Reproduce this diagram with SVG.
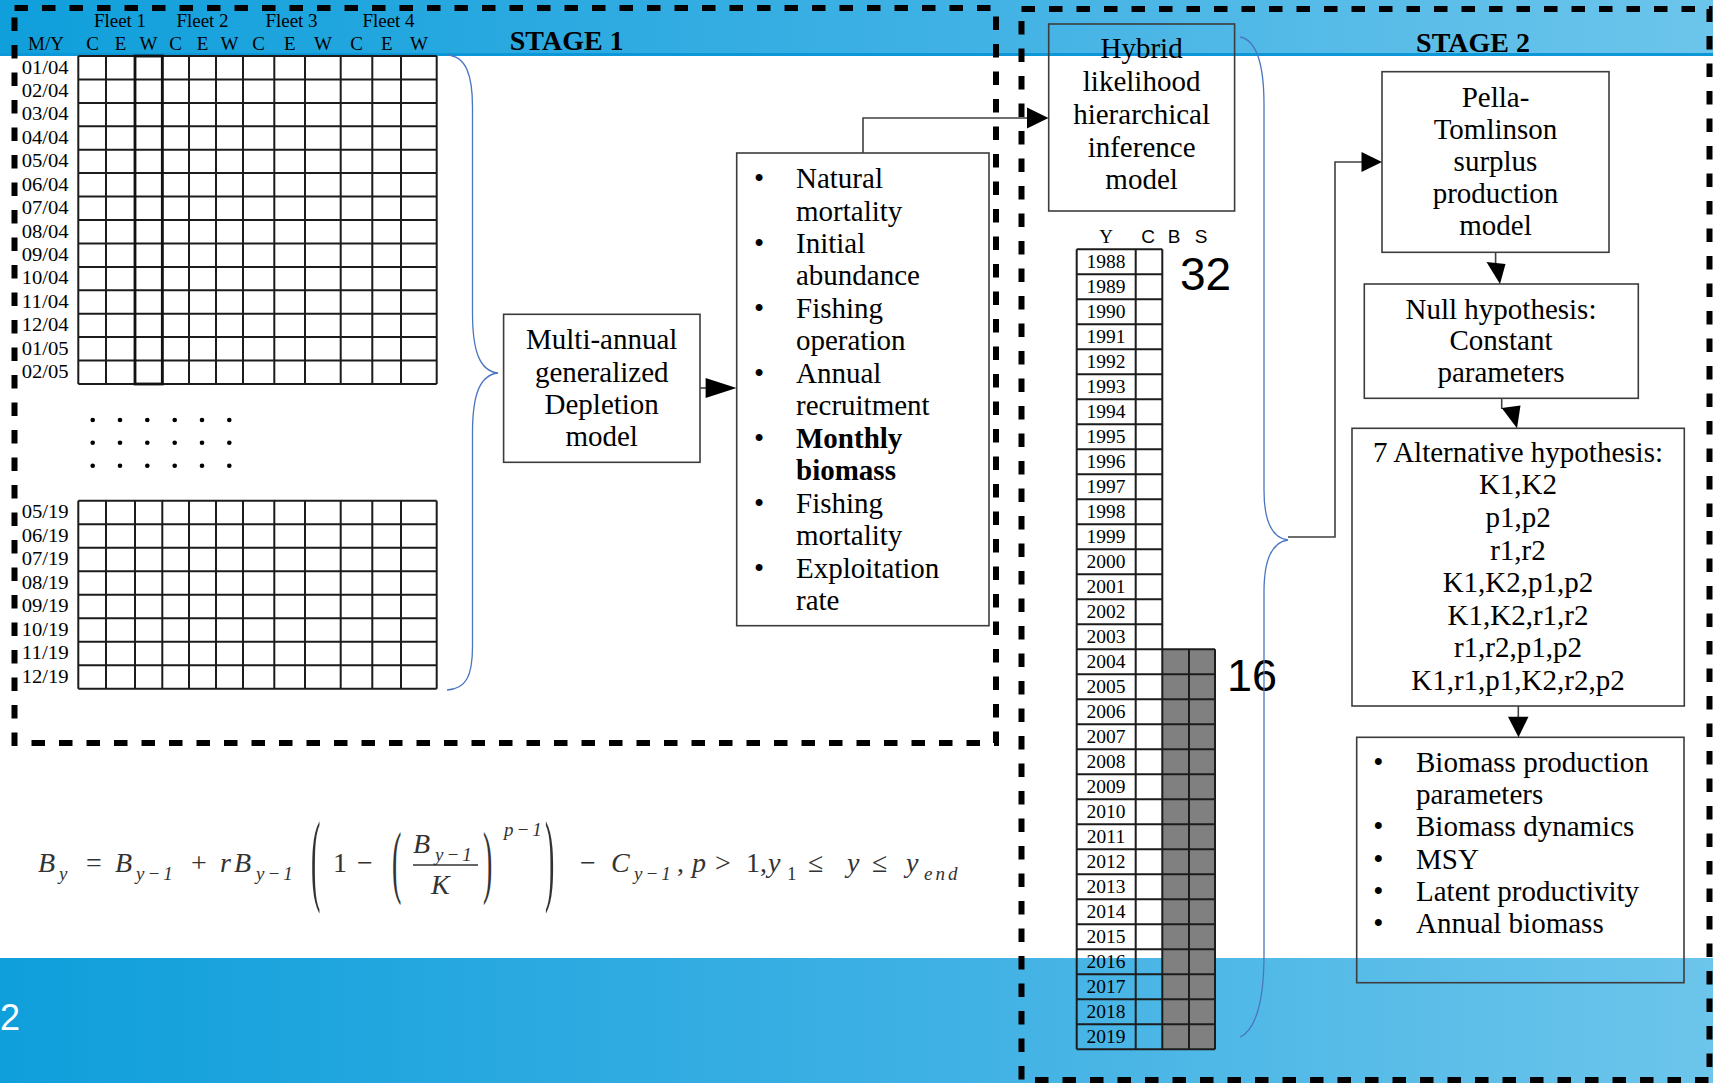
<svg xmlns="http://www.w3.org/2000/svg" width="1713" height="1083" viewBox="0 0 1713 1083">
<defs>
<linearGradient id="band" x1="0" y1="0" x2="1713" y2="0" gradientUnits="userSpaceOnUse">
<stop offset="0" stop-color="#0f9fdb"/><stop offset="0.55" stop-color="#3fb1e4"/><stop offset="1" stop-color="#6cc5eb"/>
</linearGradient>
<style>
.t{font-family:"Liberation Serif","Times New Roman",serif;fill:#000;font-size:29px}
.c{text-anchor:middle}
.lbl{font-family:"Liberation Serif","Times New Roman",serif;font-size:18px;fill:#000}
.hdr{font-family:"Liberation Serif","Times New Roman",serif;font-size:19px;fill:#000;text-anchor:middle}
.yr{font-family:"Liberation Serif","Times New Roman",serif;font-size:19.5px;fill:#000;text-anchor:middle}
.sans{font-family:"Liberation Sans",Arial,sans-serif;fill:#000}
.ttl{font-family:"Liberation Serif","Times New Roman",serif;font-size:28px;font-weight:bold;fill:#000;text-anchor:middle}
.box{fill:none;stroke:#3c3c3c;stroke-width:1.6}
.grid{fill:none;stroke:#1c1c1c;stroke-width:2}
.dash{fill:none;stroke:#000;stroke-width:6;stroke-dasharray:13.5 14}
.brace{fill:none;stroke:#4a76c0;stroke-width:1.3}
.conn{fill:none;stroke:#404040;stroke-width:1.6}
.head{fill:#000}
.eq{font-family:"Liberation Serif","DejaVu Serif",serif;fill:#333;font-size:28px}
.eqi{font-style:italic}
.sub{font-size:19px;letter-spacing:3px}
</style>
</defs>

<!-- background -->
<rect x="0" y="0" width="1713" height="1083" fill="#fff"/>
<rect x="0" y="0" width="1713" height="54" fill="url(#band)"/>
<line x1="0" y1="54.5" x2="1713" y2="54.5" stroke="#0c98d8" stroke-width="3"/>
<rect x="0" y="958" width="1713" height="125" fill="url(#band)"/>
<text x="0" y="1030" font-family="Liberation Sans, Arial, sans-serif" font-size="36" fill="#fff">2</text>

<!-- stage frames -->
<g id="stage1">
<rect class="dash" x="14.5" y="8" width="981.5" height="735"/>
<text class="ttl" x="566.7" y="50">STAGE 1</text>
</g>
<g id="stage2">
<rect class="dash" x="1021.5" y="9" width="688" height="1071"/>
<text class="ttl" x="1473" y="51.5">STAGE 2</text>
</g>

<!-- monthly data grid -->
<g id="monthly-grid">
<text class="hdr" x="120" y="27.3">Fleet 1</text>
<text class="hdr" x="202.5" y="27.3">Fleet 2</text>
<text class="hdr" x="291.5" y="27.3">Fleet 3</text>
<text class="hdr" x="388.5" y="27.3">Fleet 4</text>
<text class="hdr" x="46" y="50">M/Y</text>
<text class="hdr" x="92.5" y="50">C</text>
<text class="hdr" x="120.5" y="50">E</text>
<text class="hdr" x="148.5" y="50">W</text>
<text class="hdr" x="175.5" y="50">C</text>
<text class="hdr" x="202.5" y="50">E</text>
<text class="hdr" x="229.5" y="50">W</text>
<text class="hdr" x="258.7" y="50">C</text>
<text class="hdr" x="289.7" y="50">E</text>
<text class="hdr" x="323" y="50">W</text>
<text class="hdr" x="356.5" y="50">C</text>
<text class="hdr" x="386.7" y="50">E</text>
<text class="hdr" x="419" y="50">W</text>
<path class="grid" d="M78.3,56H436.7M78.3,79.4H436.7M78.3,102.9H436.7M78.3,126.3H436.7M78.3,149.7H436.7M78.3,173.1H436.7M78.3,196.6H436.7M78.3,220H436.7M78.3,243.4H436.7M78.3,266.9H436.7M78.3,290.3H436.7M78.3,313.7H436.7M78.3,337.1H436.7M78.3,360.6H436.7M78.3,384H436.7
M78.3,56V384M106,56V384M135,56V384M162.3,56V384M189,56V384M216,56V384M243,56V384M274.3,56V384M305,56V384M340.7,56V384M372.3,56V384M401,56V384M436.7,56V384"/>
<rect x="135" y="56" width="27.3" height="328" fill="none" stroke="#111" stroke-width="2.8"/>
<text class="lbl" x="21.7" y="73.5" textLength="47" lengthAdjust="spacingAndGlyphs">01/04</text>
<text class="lbl" x="21.7" y="96.9" textLength="47" lengthAdjust="spacingAndGlyphs">02/04</text>
<text class="lbl" x="21.7" y="120.4" textLength="47" lengthAdjust="spacingAndGlyphs">03/04</text>
<text class="lbl" x="21.7" y="143.8" textLength="47" lengthAdjust="spacingAndGlyphs">04/04</text>
<text class="lbl" x="21.7" y="167.2" textLength="47" lengthAdjust="spacingAndGlyphs">05/04</text>
<text class="lbl" x="21.7" y="190.6" textLength="47" lengthAdjust="spacingAndGlyphs">06/04</text>
<text class="lbl" x="21.7" y="214.1" textLength="47" lengthAdjust="spacingAndGlyphs">07/04</text>
<text class="lbl" x="21.7" y="237.5" textLength="47" lengthAdjust="spacingAndGlyphs">08/04</text>
<text class="lbl" x="21.7" y="260.9" textLength="47" lengthAdjust="spacingAndGlyphs">09/04</text>
<text class="lbl" x="21.7" y="284.4" textLength="47" lengthAdjust="spacingAndGlyphs">10/04</text>
<text class="lbl" x="21.7" y="307.8" textLength="47" lengthAdjust="spacingAndGlyphs">11/04</text>
<text class="lbl" x="21.7" y="331.2" textLength="47" lengthAdjust="spacingAndGlyphs">12/04</text>
<text class="lbl" x="21.7" y="354.6" textLength="47" lengthAdjust="spacingAndGlyphs">01/05</text>
<text class="lbl" x="21.7" y="378.1" textLength="47" lengthAdjust="spacingAndGlyphs">02/05</text>
<g fill="#000">
<circle cx="92.7" cy="420" r="2.3"/><circle cx="120" cy="420" r="2.3"/><circle cx="147.3" cy="420" r="2.3"/><circle cx="174.7" cy="420" r="2.3"/><circle cx="202" cy="420" r="2.3"/><circle cx="229.3" cy="420" r="2.3"/>
<circle cx="92.7" cy="442.7" r="2.3"/><circle cx="120" cy="442.7" r="2.3"/><circle cx="147.3" cy="442.7" r="2.3"/><circle cx="174.7" cy="442.7" r="2.3"/><circle cx="202" cy="442.7" r="2.3"/><circle cx="229.3" cy="442.7" r="2.3"/>
<circle cx="92.7" cy="465.7" r="2.3"/><circle cx="120" cy="465.7" r="2.3"/><circle cx="147.3" cy="465.7" r="2.3"/><circle cx="174.7" cy="465.7" r="2.3"/><circle cx="202" cy="465.7" r="2.3"/><circle cx="229.3" cy="465.7" r="2.3"/>
</g>
<path class="grid" d="M78.3,500.7H436.7M78.3,524.2H436.7M78.3,547.7H436.7M78.3,571.2H436.7M78.3,594.7H436.7M78.3,618.2H436.7M78.3,641.7H436.7M78.3,665.2H436.7M78.3,688.7H436.7
M78.3,500.7V688.7M106,500.7V688.7M135,500.7V688.7M162.3,500.7V688.7M189,500.7V688.7M216,500.7V688.7M243,500.7V688.7M274.3,500.7V688.7M305,500.7V688.7M340.7,500.7V688.7M372.3,500.7V688.7M401,500.7V688.7M436.7,500.7V688.7"/>
<text class="lbl" x="21.7" y="518.2" textLength="47" lengthAdjust="spacingAndGlyphs">05/19</text>
<text class="lbl" x="21.7" y="541.7" textLength="47" lengthAdjust="spacingAndGlyphs">06/19</text>
<text class="lbl" x="21.7" y="565.2" textLength="47" lengthAdjust="spacingAndGlyphs">07/19</text>
<text class="lbl" x="21.7" y="588.7" textLength="47" lengthAdjust="spacingAndGlyphs">08/19</text>
<text class="lbl" x="21.7" y="612.2" textLength="47" lengthAdjust="spacingAndGlyphs">09/19</text>
<text class="lbl" x="21.7" y="635.7" textLength="47" lengthAdjust="spacingAndGlyphs">10/19</text>
<text class="lbl" x="21.7" y="659.2" textLength="47" lengthAdjust="spacingAndGlyphs">11/19</text>
<text class="lbl" x="21.7" y="682.7" textLength="47" lengthAdjust="spacingAndGlyphs">12/19</text>
</g>

<!-- depletion model -->
<g id="depletion-model">
<rect class="box" x="503.6" y="314.3" width="196.4" height="148"/>
<text class="t c" x="601.7" y="349.3">Multi-annual</text>
<text class="t c" x="601.7" y="381.5">generalized</text>
<text class="t c" x="601.7" y="413.8">Depletion</text>
<text class="t c" x="601.7" y="446">model</text>
</g>

<!-- stage 1 outputs -->
<g id="stage1-outputs">
<rect class="box" x="736.7" y="153" width="252.3" height="472.7"/>
<text class="t c" x="759" y="188">•</text>
<text class="t" x="796" y="188">Natural</text>
<text class="t" x="796" y="220.5">mortality</text>
<text class="t c" x="759" y="252.9">•</text>
<text class="t" x="796" y="252.9">Initial</text>
<text class="t" x="796" y="285.4">abundance</text>
<text class="t c" x="759" y="317.8">•</text>
<text class="t" x="796" y="317.8">Fishing</text>
<text class="t" x="796" y="350.3">operation</text>
<text class="t c" x="759" y="382.8">•</text>
<text class="t" x="796" y="382.8">Annual</text>
<text class="t" x="796" y="415.2">recruitment</text>
<text class="t c" x="759" y="447.7">•</text>
<text class="t" x="796" y="447.7" font-weight="bold">Monthly</text>
<text class="t" x="796" y="480.1" font-weight="bold">biomass</text>
<text class="t c" x="759" y="512.6">•</text>
<text class="t" x="796" y="512.6">Fishing</text>
<text class="t" x="796" y="545.1">mortality</text>
<text class="t c" x="759" y="577.5">•</text>
<text class="t" x="796" y="577.5">Exploitation</text>
<text class="t" x="796" y="610">rate</text>
</g>

<!-- hybrid model -->
<g id="hybrid-model">
<rect class="box" x="1048.7" y="24" width="185.9" height="187"/>
<text class="t c" x="1141.6" y="58.3">Hybrid</text>
<text class="t c" x="1141.6" y="91">likelihood</text>
<text class="t c" x="1141.6" y="123.8">hierarchical</text>
<text class="t c" x="1141.6" y="156.5">inference</text>
<text class="t c" x="1141.6" y="189.3">model</text>
</g>

<!-- annual table -->
<g id="annual-table">
<text class="hdr" x="1106" y="242.7">Y</text>
<text class="sans" x="1148" y="242.7" font-size="19" text-anchor="middle">C</text>
<text class="sans" x="1174" y="242.7" font-size="19" text-anchor="middle">B</text>
<text class="sans" x="1201" y="242.7" font-size="19" text-anchor="middle">S</text>
<rect x="1162.3" y="649.3" width="52.7" height="400" fill="#808080"/>
<path class="grid" d="M1076.7,249.3V1049.3M1135.7,249.3V1049.3M1162.3,249.3V1049.3M1189,649.3V1049.3M1215,649.3V1049.3
M1076.7,249.3H1162.3M1076.7,274.3H1162.3M1076.7,299.3H1162.3M1076.7,324.3H1162.3M1076.7,349.3H1162.3M1076.7,374.3H1162.3M1076.7,399.3H1162.3M1076.7,424.3H1162.3M1076.7,449.3H1162.3M1076.7,474.3H1162.3M1076.7,499.3H1162.3M1076.7,524.3H1162.3M1076.7,549.3H1162.3M1076.7,574.3H1162.3M1076.7,599.3H1162.3M1076.7,624.3H1162.3
M1076.7,649.3H1215M1076.7,674.3H1215M1076.7,699.3H1215M1076.7,724.3H1215M1076.7,749.3H1215M1076.7,774.3H1215M1076.7,799.3H1215M1076.7,824.3H1215M1076.7,849.3H1215M1076.7,874.3H1215M1076.7,899.3H1215M1076.7,924.3H1215M1076.7,949.3H1215M1076.7,974.3H1215M1076.7,999.3H1215M1076.7,1024.3H1215M1076.7,1049.3H1215"/>
<text class="yr" x="1106" y="268.3">1988</text>
<text class="yr" x="1106" y="293.3">1989</text>
<text class="yr" x="1106" y="318.3">1990</text>
<text class="yr" x="1106" y="343.3">1991</text>
<text class="yr" x="1106" y="368.3">1992</text>
<text class="yr" x="1106" y="393.3">1993</text>
<text class="yr" x="1106" y="418.3">1994</text>
<text class="yr" x="1106" y="443.3">1995</text>
<text class="yr" x="1106" y="468.3">1996</text>
<text class="yr" x="1106" y="493.3">1997</text>
<text class="yr" x="1106" y="518.3">1998</text>
<text class="yr" x="1106" y="543.3">1999</text>
<text class="yr" x="1106" y="568.3">2000</text>
<text class="yr" x="1106" y="593.3">2001</text>
<text class="yr" x="1106" y="618.3">2002</text>
<text class="yr" x="1106" y="643.3">2003</text>
<text class="yr" x="1106" y="668.3">2004</text>
<text class="yr" x="1106" y="693.3">2005</text>
<text class="yr" x="1106" y="718.3">2006</text>
<text class="yr" x="1106" y="743.3">2007</text>
<text class="yr" x="1106" y="768.3">2008</text>
<text class="yr" x="1106" y="793.3">2009</text>
<text class="yr" x="1106" y="818.3">2010</text>
<text class="yr" x="1106" y="843.3">2011</text>
<text class="yr" x="1106" y="868.3">2012</text>
<text class="yr" x="1106" y="893.3">2013</text>
<text class="yr" x="1106" y="918.3">2014</text>
<text class="yr" x="1106" y="943.3">2015</text>
<text class="yr" x="1106" y="968.3">2016</text>
<text class="yr" x="1106" y="993.3">2017</text>
<text class="yr" x="1106" y="1018.3">2018</text>
<text class="yr" x="1106" y="1043.3">2019</text>
<text class="sans" x="1180" y="290" font-size="46">32</text>
<text class="sans" x="1227" y="690.7" font-size="45">16</text>
</g>

<!-- pella-tomlinson -->
<g id="pella-tomlinson">
<rect class="box" x="1382" y="71.7" width="227" height="180.6"/>
<text class="t c" x="1495.5" y="106.7">Pella-</text>
<text class="t c" x="1495.5" y="138.6">Tomlinson</text>
<text class="t c" x="1495.5" y="170.7">surplus</text>
<text class="t c" x="1495.5" y="202.8">production</text>
<text class="t c" x="1495.5" y="235">model</text>
</g>

<g id="null-hypothesis">
<rect class="box" x="1364.3" y="284" width="274" height="114.3"/>
<text class="t c" x="1501" y="318.5">Null hypothesis:</text>
<text class="t c" x="1501" y="350.3">Constant</text>
<text class="t c" x="1501" y="382">parameters</text>
</g>

<g id="alternative-hypothesis">
<rect class="box" x="1352" y="428.3" width="332.3" height="277.7"/>
<text class="t c" x="1518" y="461.7">7 Alternative hypothesis:</text>
<text class="t c" x="1518" y="494.3">K1,K2</text>
<text class="t c" x="1518" y="526.9">p1,p2</text>
<text class="t c" x="1518" y="559.5">r1,r2</text>
<text class="t c" x="1518" y="592.1">K1,K2,p1,p2</text>
<text class="t c" x="1518" y="624.7">K1,K2,r1,r2</text>
<text class="t c" x="1518" y="657.3">r1,r2,p1,p2</text>
<text class="t c" x="1518" y="689.9">K1,r1,p1,K2,r2,p2</text>
</g>

<g id="stage2-outputs">
<rect class="box" x="1356.7" y="737.3" width="327.3" height="245.4"/>
<text class="t c" x="1378.3" y="771.7">•</text>
<text class="t" x="1416" y="771.7">Biomass production</text>
<text class="t" x="1416" y="804">parameters</text>
<text class="t c" x="1378.3" y="836.3">•</text>
<text class="t" x="1416" y="836.3">Biomass dynamics</text>
<text class="t c" x="1378.3" y="868.6">•</text>
<text class="t" x="1416" y="868.6">MSY</text>
<text class="t c" x="1378.3" y="900.9">•</text>
<text class="t" x="1416" y="900.9">Latent productivity</text>
<text class="t c" x="1378.3" y="933.2">•</text>
<text class="t" x="1416" y="933.2">Annual biomass</text>
</g>

<!-- equation -->
<g id="equation">
<text class="eq eqi" x="38" y="872">B</text>
<text class="eq eqi sub" x="59" y="880">y</text>
<text class="eq" x="86" y="872">=</text>
<text class="eq eqi" x="115" y="872">B</text>
<text class="eq eqi sub" x="136" y="880">y−1</text>
<text class="eq" x="191" y="872">+</text>
<text class="eq eqi" x="220" y="872">r</text>
<text class="eq eqi" x="234" y="872">B</text>
<text class="eq eqi sub" x="256" y="880">y−1</text>
<text class="eq" transform="translate(311,865) scale(1,3.6)" y="7.6" font-size="30">(</text>
<text class="eq" x="333" y="872">1</text>
<text class="eq" x="357" y="872">−</text>
<text class="eq" transform="translate(392,865.5) scale(1,2.9)" y="7.6" font-size="30">(</text>
<text class="eq eqi" x="413" y="853">B</text>
<text class="eq eqi sub" x="435" y="861">y−1</text>
<line x1="413" y1="865" x2="478" y2="865" stroke="#333" stroke-width="1.6"/>
<text class="eq eqi" x="431" y="894">K</text>
<text class="eq" transform="translate(483,865.5) scale(1,2.9)" y="7.6" font-size="30">)</text>
<text class="eq eqi sub" x="504" y="836">p−1</text>
<text class="eq" transform="translate(545,865) scale(1,3.6)" y="7.6" font-size="30">)</text>
<text class="eq" x="580" y="872">−</text>
<text class="eq eqi" x="611" y="872">C</text>
<text class="eq eqi sub" x="634" y="880">y−1</text>
<text class="eq" x="677" y="872">,</text>
<text class="eq eqi" x="692" y="872">p</text>
<text class="eq" x="715" y="872">&gt;</text>
<text class="eq" x="746" y="872">1,</text>
<text class="eq eqi" x="768" y="872">y</text>
<text class="eq sub" x="787" y="880">1</text>
<text class="eq" x="808" y="872">≤</text>
<text class="eq eqi" x="847" y="872">y</text>
<text class="eq" x="872" y="872">≤</text>
<text class="eq eqi" x="906" y="872">y</text>
<text class="eq eqi sub" x="924" y="880">end</text>
</g>

<!-- connectors -->
<g id="connectors">
<path class="brace" d="M447,55 C466,56 472.5,75 472.5,107 L472.5,313 C472.5,352 480,371 498,373 C480,375 472.5,394 472.5,433 L472.5,647 C472.5,676 466,689 447,690"/>
<path class="brace" d="M1240,37 C1256,40 1264,62 1264,105 L1264,490 C1264,520 1272,538 1288,540 C1272,542 1264,560 1264,592 L1264,955 C1264,1000 1256,1030 1240,1037"/>
<path class="conn" d="M700,388H707"/>
<polygon class="head" points="705.6,378 736.5,388 705.6,398"/>
<path class="conn" d="M863,153V118H1029"/>
<polygon class="head" points="1027,107.5 1048.5,118 1027,128.5"/>
<path class="conn" d="M1288,537H1335V162H1363"/>
<polygon class="head" points="1361.5,152 1382,162 1361.5,172"/>
<path class="conn" d="M1495.6,252.3V264"/>
<polygon class="head" points="1486.5,262 1505.5,264 1500,284"/>
<path class="conn" d="M1501.7,398.3V409"/>
<polygon class="head" points="1501.7,408 1520.5,405.5 1517,428.3"/>
<path class="conn" d="M1518.3,706V718"/>
<polygon class="head" points="1508,716.7 1528.5,716.7 1518.5,737.3"/>
</g>
</svg>
